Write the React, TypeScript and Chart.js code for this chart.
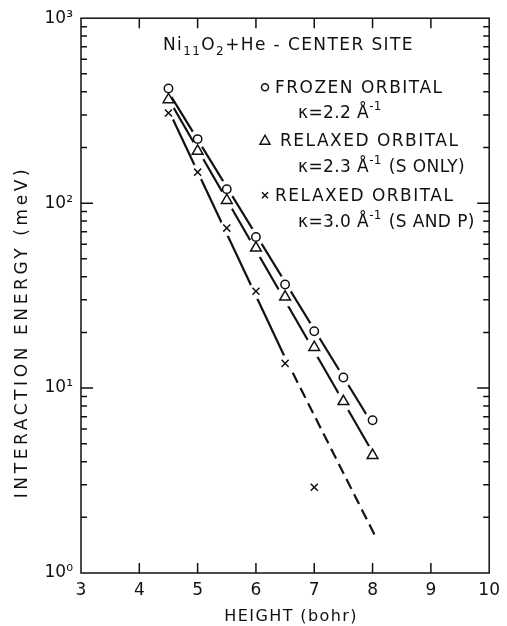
import { useEffect, useRef } from 'react';
import { Chart, registerables } from 'chart.js';

Chart.register(...registerables);

// ---- data ----
const heights = [4.5, 5, 5.5, 6, 6.5, 7, 7.5, 8];
const frozenEnergy = [417, 222, 119, 65.6, 36.3, 20.3, 11.4, 6.7];
const relaxedSEnergy = [363, 191, 103.5, 57.2, 31.1, 16.6, 8.46, 4.33];
const relaxedSPHeights = [4.5, 5, 5.5, 6, 6.5, 7];
const relaxedSPEnergy = [307, 147, 73.3, 33.4, 13.6, 2.91];

// fitted straight lines (log scale)
const frozenFitX = [4.5, 8];
const frozenFitY = [398, 6.35];
const relaxedSFitX = [4.5, 8];
const relaxedSFitY = [367, 4.5];
const relaxedSPFitX = [4.5, 6.5];
const relaxedSPFitY = [320, 14.6];
const relaxedSPExtX = [6.5, 8.07];
const relaxedSPExtY = [14.6, 1.53];

const xTickValues = [3, 4, 5, 6, 7, 8, 9, 10];
const xTickLabels = ['3', '4', '5', '6', '7', '8', '9', '10'];
const yTickValues = [1, 10, 100, 1000];
const yTickLabels = ['10⁰', '10¹', '10²', '10³'];

const xTitle = 'HEIGHT (bohr)';
const yTitle = 'INTERACTION ENERGY (meV)';
const legendNames = ['FROZEN ORBITAL', 'RELAXED ORBITAL', 'RELAXED ORBITAL'];
const legendKappa = ['2.2', '2.3', '3.0'];
const legendNotes = ['', '(S ONLY)', '(S AND P)'];

const FONT = '"DejaVu Sans", sans-serif';
const INK = '#111';

const toPts = (xs: number[], ys: number[]) => xs.map((x, i) => ({ x, y: ys[i] }));

// line dataset index -> [marker dataset index, gap radius]
const gapSpec: Record<number, [number, number]> = { 3: [0, 9], 4: [1, 10], 5: [2, 8], 6: [2, 8] };

const gapPlugin = {
  id: 'gaps',
  beforeDatasetDraw(chart: any, args: any) {
    const spec = gapSpec[args.index];
    if (!spec) return;
    const meta = chart.getDatasetMeta(spec[0]);
    const r = spec[1];
    const ctx: CanvasRenderingContext2D = chart.ctx;
    ctx.save();
    const p = new Path2D();
    p.rect(0, 0, chart.width, chart.height);
    meta.data.forEach((el: any) => {
      p.moveTo(el.x + r, el.y);
      p.arc(el.x, el.y, r, 0, Math.PI * 2, true);
    });
    ctx.clip(p, 'evenodd');
  },
  afterDatasetDraw(chart: any, args: any) {
    if (!gapSpec[args.index]) return;
    chart.ctx.restore();
  },
};

function drawParts(ctx: CanvasRenderingContext2D, parts: [string, number, number][], x: number, y: number) {
  let cx = x;
  for (const [t, size, dy] of parts) {
    ctx.font = `${size}px ${FONT}`;
    ctx.fillText(t, cx, y + dy);
    cx += ctx.measureText(t).width;
  }
  return cx;
}

const framePlugin = {
  id: 'frame',
  afterDraw(chart: any) {
    const { ctx, chartArea: a, scales } = chart;
    const xs = scales.x;
    const ys = scales.y;
    ctx.save();
    ctx.strokeStyle = INK;
    ctx.fillStyle = INK;
    ctx.lineWidth = 1.5;
    ctx.strokeRect(a.left, a.top, a.right - a.left, a.bottom - a.top);
    ctx.beginPath();
    xTickValues.slice(1, -1).forEach((v) => {
      const px = xs.getPixelForValue(v);
      ctx.moveTo(px, a.bottom);
      ctx.lineTo(px, a.bottom - 10);
      ctx.moveTo(px, a.top);
      ctx.lineTo(px, a.top + 10);
    });
    for (let d = 0; d < yTickValues.length - 1; d++) {
      const base = yTickValues[d];
      for (let k = 1; k <= 9; k++) {
        if (k === 1 && d === 0) continue;
        const py = ys.getPixelForValue(base * k);
        const len = k === 1 ? 12 : 6;
        ctx.moveTo(a.left, py);
        ctx.lineTo(a.left + len, py);
        ctx.moveTo(a.right, py);
        ctx.lineTo(a.right - len, py);
      }
    }
    ctx.stroke();

    ctx.textBaseline = 'alphabetic';
    ctx.textAlign = 'left';
    (ctx as any).letterSpacing = '1.4px';
    drawParts(ctx, [['Ni', 17, 0], ['11', 12, 5], ['O', 17, 0], ['2', 12, 5], ['+He - CENTER SITE', 17, 0]], a.left + 82, a.top + 32);

    const mx = a.left + 184;
    const rows = [
      { by: a.top + 75, ty: a.top + 100, tx: a.left + 194 },
      { by: a.top + 128, ty: a.top + 154, tx: a.left + 199 },
      { by: a.top + 183, ty: a.top + 209, tx: a.left + 194 },
    ];
    ctx.lineWidth = 1.5;
    rows.forEach((r, i) => {
      const cy = r.by - 6;
      ctx.beginPath();
      if (i === 0) {
        ctx.arc(mx, cy, 3.5, 0, Math.PI * 2);
      } else if (i === 1) {
        ctx.moveTo(mx - 5, cy + 4);
        ctx.lineTo(mx + 5, cy + 4);
        ctx.lineTo(mx, cy - 5);
        ctx.closePath();
      } else {
        ctx.moveTo(mx - 3, cy - 3);
        ctx.lineTo(mx + 3, cy + 3);
        ctx.moveTo(mx + 3, cy - 3);
        ctx.lineTo(mx - 3, cy + 3);
      }
      ctx.stroke();
      (ctx as any).letterSpacing = '1.5px';
      ctx.font = `17px ${FONT}`;
      ctx.fillText(legendNames[i], r.tx, r.by);
      (ctx as any).letterSpacing = '0.4px';
      const ex = drawParts(ctx, [['κ=' + legendKappa[i] + ' Å', 17, 0], ['-1', 12, -8]], a.left + 217, r.ty);
      if (legendNotes[i]) {
        drawParts(ctx, [[' ' + legendNotes[i], 17, 0]], ex + 1, r.ty);
      }
    });

    ctx.font = `16px ${FONT}`;
    (ctx as any).letterSpacing = '1.4px';
    ctx.textAlign = 'center';
    ctx.fillText(xTitle, (a.left + a.right) / 2 + 6, chart.height - 5);
    ctx.save();
    ctx.translate(27, 332);
    ctx.rotate(-Math.PI / 2);
    ctx.font = `17px ${FONT}`;
    (ctx as any).letterSpacing = '3.6px';
    ctx.fillText(yTitle, 0, 0);
    ctx.restore();
    (ctx as any).letterSpacing = '0px';
    ctx.restore();
  },
};

export default function App() {
  const ref = useRef<HTMLCanvasElement>(null);
  useEffect(() => {
    if (!ref.current) return;
    const chart = new Chart(ref.current, {
      type: 'scatter',
      data: {
        datasets: [
          {
            data: toPts(heights, frozenEnergy),
            pointStyle: 'circle', pointRadius: 4.2, pointBorderWidth: 1.5,
            pointBackgroundColor: '#fff', pointBorderColor: INK, showLine: false, order: 0,
          },
          {
            data: toPts(heights, relaxedSEnergy),
            pointStyle: 'triangle', pointRadius: 6.2, pointBorderWidth: 1.5,
            pointBackgroundColor: '#fff', pointBorderColor: INK, showLine: false, order: 0,
          },
          {
            data: toPts(relaxedSPHeights, relaxedSPEnergy),
            pointStyle: 'crossRot', pointRadius: 5, pointBorderWidth: 1.5,
            pointBorderColor: INK, showLine: false, order: 0,
          },
          {
            data: toPts(frozenFitX, frozenFitY), showLine: true, pointRadius: 0,
            borderColor: INK, borderWidth: 2.2, order: 1,
          },
          {
            data: toPts(relaxedSFitX, relaxedSFitY), showLine: true, pointRadius: 0,
            borderColor: INK, borderWidth: 2.2, order: 1,
          },
          {
            data: toPts(relaxedSPFitX, relaxedSPFitY), showLine: true, pointRadius: 0,
            borderColor: INK, borderWidth: 2.2, order: 1,
          },
          {
            data: toPts(relaxedSPExtX, relaxedSPExtY), showLine: true, pointRadius: 0,
            borderColor: INK, borderWidth: 2.2, borderDash: [11, 6], order: 1,
          },
        ],
      },
      options: {
        responsive: false,
        animation: false,
        events: [],
        layout: { padding: { top: 15, right: 10, left: 0, bottom: 0 } },
        plugins: { legend: { display: false }, tooltip: { enabled: false } },
        scales: {
          x: {
            type: 'linear', min: 3, max: 10,
            grid: { display: false, drawTicks: false },
            border: { display: false },
            afterBuildTicks: (s: any) => { s.ticks = xTickValues.map((v) => ({ value: v })); },
            afterFit: (s: any) => { s.height = 53; },
            ticks: {
              color: INK, padding: 7, maxRotation: 0, autoSkip: false,
              font: { family: FONT, size: 17 },
              callback: (_v: any, i: number) => xTickLabels[i],
            },
          },
          y: {
            type: 'logarithmic', min: 1, max: 1000,
            grid: { display: false, drawTicks: false },
            border: { display: false },
            afterBuildTicks: (s: any) => { s.ticks = yTickValues.map((v) => ({ value: v })); },
            afterFit: (s: any) => { s.width = 81; },
            ticks: {
              color: INK, padding: 8, autoSkip: false,
              font: { family: FONT, size: 17 },
              callback: (_v: any, i: number) => yTickLabels[i],
            },
          },
        },
      },
      plugins: [gapPlugin, framePlugin],
    });
    return () => chart.destroy();
  }, []);
  return (
    <div style={{ position: 'absolute', left: 0, top: 0, width: 507, height: 626, background: '#fff' }}>
      <canvas ref={ref} width={507} height={626} />
    </div>
  );
}
